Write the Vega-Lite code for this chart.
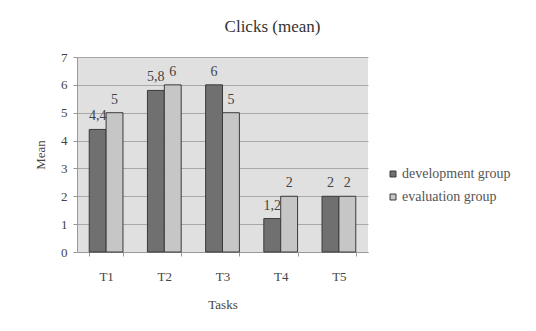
{
  "$schema": "https://vega.github.io/schema/vega-lite/v6.json",
  "width": 291,
  "height": 195,
  "autosize": {"type": "none"},
  "padding": {"left": 77, "top": 57, "right": 168, "bottom": 79},
  "background": "#ffffff",
  "title": {
    "text": "Clicks (mean)",
    "anchor": "middle",
    "dx": 50,
    "offset": 15,
    "font": "Liberation Serif",
    "fontSize": 17,
    "fontWeight": "normal",
    "color": "#333333"
  },
  "data": {
    "values": [
      {"task": "T1", "group": "development group", "mean": 4.4},
      {"task": "T1", "group": "evaluation group", "mean": 5},
      {"task": "T2", "group": "development group", "mean": 5.8},
      {"task": "T2", "group": "evaluation group", "mean": 6},
      {"task": "T3", "group": "development group", "mean": 6},
      {"task": "T3", "group": "evaluation group", "mean": 5},
      {"task": "T4", "group": "development group", "mean": 1.2},
      {"task": "T4", "group": "evaluation group", "mean": 2},
      {"task": "T5", "group": "development group", "mean": 2},
      {"task": "T5", "group": "evaluation group", "mean": 2}
    ]
  },
  "encoding": {
    "x": {
      "field": "task",
      "type": "nominal",
      "title": "Tasks",
      "scale": {"paddingInner": 0.42, "paddingOuter": 0.21},
      "axis": {
        "labelAngle": 0,
        "tickBand": "extent",
        "tickSize": 4,
        "labelPadding": 14,
        "titlePadding": 15
      }
    },
    "xOffset": {"field": "group", "type": "nominal", "scale": {"paddingInner": 0, "paddingOuter": 0}},
    "y": {
      "field": "mean",
      "type": "quantitative",
      "title": "Mean",
      "scale": {"domain": [0, 7]},
      "axis": {"values": [0, 1, 2, 3, 4, 5, 6, 7], "format": "d", "tickSize": 4, "labelPadding": 6, "titlePadding": 13}
    }
  },
  "layer": [
    {
      "mark": {"type": "bar", "stroke": "#3a3a3a", "strokeWidth": 1},
      "encoding": {
        "color": {
          "field": "group",
          "type": "nominal",
          "title": null,
          "scale": {"domain": ["development group", "evaluation group"], "range": ["#707070", "#c6c6c6"]},
          "legend": {
            "orient": "none",
            "legendX": 309,
            "legendY": 110,
            "symbolType": "square",
            "symbolSize": 36,
            "symbolStrokeColor": "#3a3a3a",
            "symbolStrokeWidth": 1,
            "labelFont": "Liberation Serif",
            "labelFontSize": 14,
            "labelColor": "#555555",
            "labelOffset": 2,
            "rowPadding": 9
          }
        }
      }
    },
    {
      "mark": {"type": "text", "baseline": "bottom", "dy": -6, "font": "Liberation Serif", "fontSize": 14},
      "encoding": {
        "text": {"field": "mean", "type": "quantitative", "format": "~g"},
        "color": {"value": "#444444"}
      }
    }
  ],
  "config": {
    "locale": {
      "number": {"decimal": ",", "thousands": ".", "grouping": [3], "currency": ["", " €"]}
    },
    "view": {"fill": "#e0e0e0", "stroke": null},
    "axis": {
      "labelFont": "Liberation Serif",
      "labelFontSize": 13,
      "labelColor": "#444444",
      "titleFont": "Liberation Serif",
      "titleFontSize": 13,
      "titleFontWeight": "normal",
      "titleColor": "#444444",
      "domainColor": "#999999",
      "tickColor": "#999999",
      "gridColor": "#a8a8a8",
      "grid": false
    },
    "axisY": {"grid": true},
    "axisX": {"grid": false}
  }
}
